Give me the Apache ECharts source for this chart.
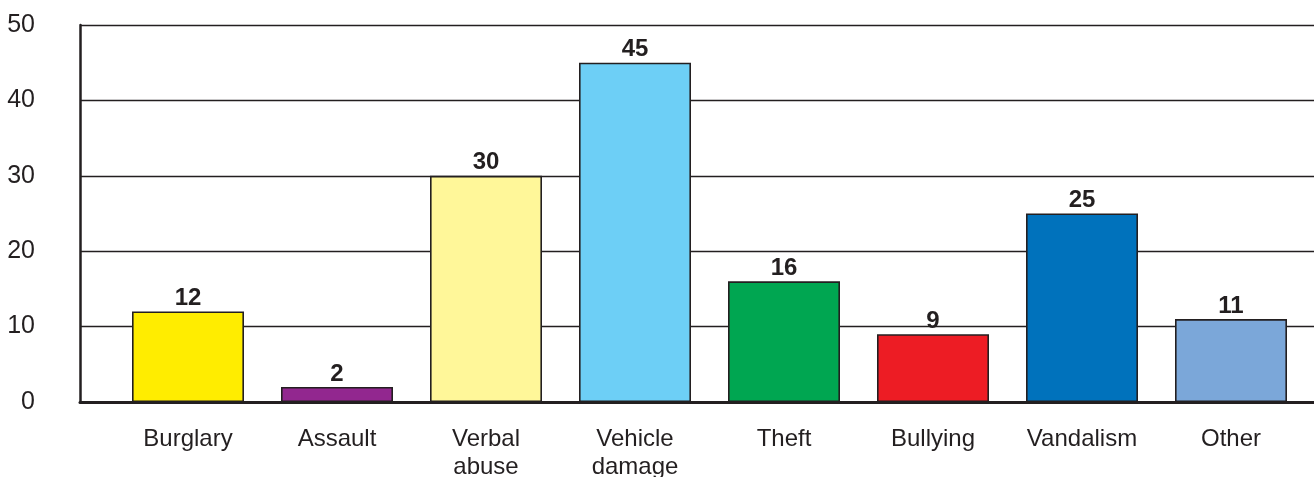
<!DOCTYPE html>
<html>
<head>
<meta charset="utf-8">
<script src="https://cdn.jsdelivr.net/npm/echarts@6/dist/echarts.min.js"></script>
<style>
html,body{margin:0;padding:0;background:#fff;}
#chart{width:1314px;height:477px;}
</style>
</head>
<body>
<div id="chart"></div>
<script>
const categories = ['Burglary', 'Assault', 'Verbal\nabuse', 'Vehicle\ndamage', 'Theft', 'Bullying', 'Vandalism', 'Other'];
const values = [12, 2, 30, 45, 16, 9, 25, 11];
const barColors = ['#FFED00', '#92278F', '#FFF799', '#6DCFF6', '#00A651', '#ED1C24', '#0072BC', '#7BA7D9'];
const yTicks = [0, 10, 20, 30, 40, 50];

const ink = '#231f20';
const font = '"Liberation Sans", Arial, sans-serif';

const chart = echarts.init(document.getElementById('chart'), null, {renderer: 'canvas'});
chart.setOption({
  animation: false,
  backgroundColor: '#fff',
  grid: [
    {left: 80, right: 0, top: 25, bottom: 75, containLabel: false, outerBoundsMode: 'none'},
    {left: 113.5, right: 8.5, top: 25, bottom: 75, containLabel: false, outerBoundsMode: 'none'}
  ],
  xAxis: [
    {
      gridIndex: 0, type: 'value', min: 0, max: 1,
      axisLine: {show: true, lineStyle: {color: ink, width: 3}},
      axisTick: {show: false}, axisLabel: {show: false}, splitLine: {show: false}
    },
    {
      gridIndex: 1, type: 'category', data: categories,
      axisLine: {show: false}, axisTick: {show: false},
      axisLabel: {
        color: ink, fontFamily: font, fontSize: 24, margin: 23, lineHeight: 28,
        interval: 0
      }
    }
  ],
  yAxis: [
    {
      gridIndex: 0, type: 'value', min: yTicks[0], max: yTicks[yTicks.length - 1], interval: 10,
      axisLine: {show: true, lineStyle: {color: ink, width: 2.5}},
      axisTick: {show: false},
      axisLabel: {color: ink, fontFamily: font, fontSize: 25, margin: 45, align: 'right', padding: [5, 0, 0, 0]},
      splitLine: {show: true, lineStyle: {color: ink, width: 1.3}}
    },
    {
      gridIndex: 1, type: 'value', min: yTicks[0], max: yTicks[yTicks.length - 1], interval: 10,
      show: false
    }
  ],
  series: [{
    type: 'bar',
    xAxisIndex: 1, yAxisIndex: 1,
    barWidth: 112,
    data: values.map((v, i) => ({value: v, itemStyle: {color: barColors[i]}})),
    itemStyle: {borderColor: ink, borderWidth: 1.6},
    label: {
      show: true, position: 'top', distance: 1,
      color: ink, fontFamily: font, fontSize: 24, fontWeight: 'bold'
    }
  }]
});
</script>
</body>
</html>
